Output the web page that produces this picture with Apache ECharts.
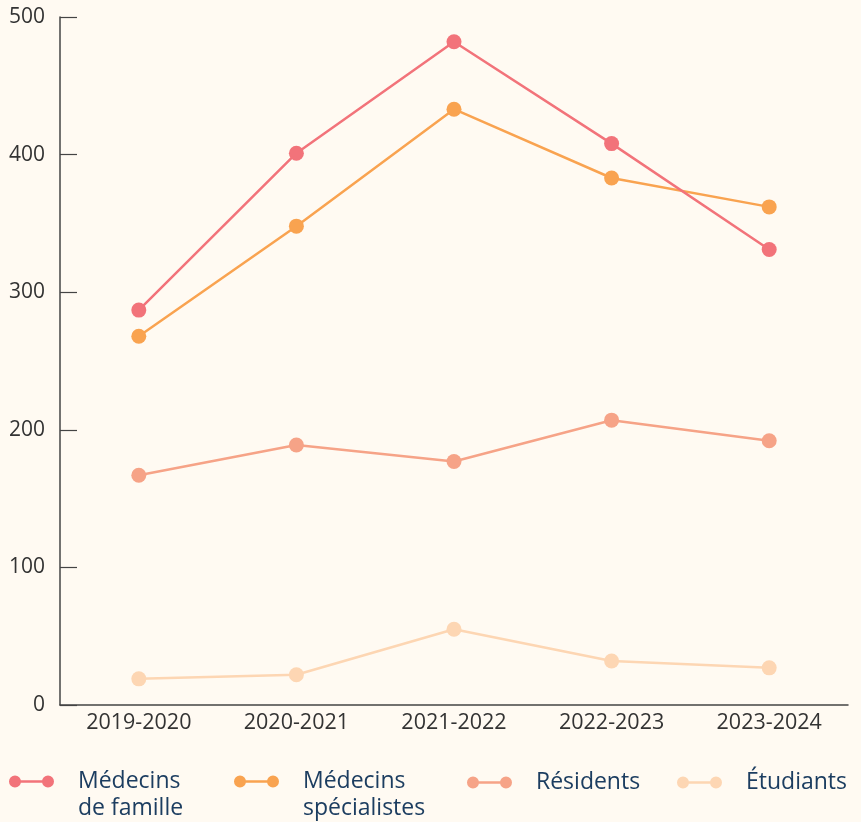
<!DOCTYPE html>
<html><head><meta charset="utf-8">
<script src="https://cdn.jsdelivr.net/npm/echarts@6/dist/echarts.min.js"></script>
<style>html,body{margin:0;padding:0;background:#FFFAF2;}#c{width:861px;height:822px;}</style>
</head><body><div id="c"></div>
<script>
const categories = ['2019-2020','2020-2021','2021-2022','2022-2023','2023-2024'];
const yTicks = [0,100,200,300,400,500];
const famille = [287,401,482,408,331];
const specialistes = [268,348,433,383,362];
const residents = [167,189,177,207,192];
const etudiants = [19,22,55,32,27];
const seriesNames = ['Médecins de famille','Médecins spécialistes','Résidents','Étudiants'];
const legendLabels = ['Médecins\nde famille','Médecins\nspécialistes','Résidents','Étudiants'];
const colors = ['#F2737A','#F9A350','#F6A387','#FDD6B3'];

const icon = 'path://M0,6A6,6 0 1,1 12,6A6,6 0 1,1 0,6Z M33,6A6,6 0 1,1 45,6A6,6 0 1,1 33,6Z M11,4.7L34,4.7L34,7.3L11,7.3Z';
const font = '"Open Sans", Lato, sans-serif';
const dataSets = [famille, specialistes, residents, etudiants];
const legendLeft = [4, 229, 462, 672];

const legends = seriesNames.map((n,i)=>{
  const multi = legendLabels[i].indexOf('\n')>=0;
  return {
    data:[n], left: legendLeft[i], top: multi ? 736 : 764, icon: icon, itemWidth: 45, itemHeight: 12,
    itemGap: 0, selectedMode:false,
    itemStyle:{color:colors[i], borderWidth:0},
    formatter: ()=> multi ? '\n' + legendLabels[i] : legendLabels[i],
    textStyle:{color:'#1C3D60', fontSize:23, fontFamily:font, lineHeight:27, padding:[0,0,0,19]}
  };
});

const chart = echarts.init(document.getElementById('c'), null, {renderer:'canvas'});
chart.setOption({
  backgroundColor:'#FFFAF2',
  animation:false,
  grid:{left:60, right:13, top:17, bottom:117, containLabel:false},
  legend: legends,
  xAxis:{type:'category', data:categories, boundaryGap:true,
    axisLine:{lineStyle:{color:'#444', width:1.5}},
    axisTick:{inside:true, length:17, lineStyle:{color:'#444', width:1.2}},
    axisLabel:{color:'#333', fontSize:21.5, fontFamily:font, margin:7}},
  yAxis:{type:'value', min:yTicks[0], max:yTicks[yTicks.length-1], interval:100,
    splitLine:{show:false},
    axisLine:{show:true, lineStyle:{color:'#444', width:1.5}},
    axisTick:{show:true, inside:true, length:17, lineStyle:{color:'#444', width:1.2}},
    axisLabel:{color:'#333', fontSize:21, fontFamily:font, margin:15}},
  series: seriesNames.map((n,i)=>({
    name:n, type:'line', data:dataSets[i], symbol:'circle', symbolSize:15,
    itemStyle:{color:colors[i]}, lineStyle:{color:colors[i], width:2.5}, z: 10-i
  }))
});
</script></body></html>
